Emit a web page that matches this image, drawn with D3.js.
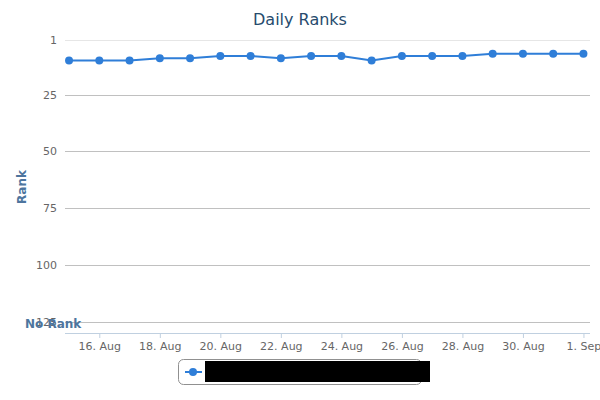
<!DOCTYPE html>
<html><head><meta charset="utf-8">
<script src="https://cdn.jsdelivr.net/npm/d3@7"></script>
<style>body{margin:0;background:#fff}svg{display:block;font-family:"DejaVu Sans",sans-serif}</style>
</head><body><svg id="c" width="600" height="400"></svg>
<script>
const dates = ["2013-08-15","2013-08-16","2013-08-17","2013-08-18","2013-08-19","2013-08-20","2013-08-21","2013-08-22","2013-08-23","2013-08-24","2013-08-25","2013-08-26","2013-08-27","2013-08-28","2013-08-29","2013-08-30","2013-08-31","2013-09-01"];
const ranks = [10,10,10,9,9,8,8,9,8,8,10,8,8,8,7,7,7,7];
const yTicks = [1,25,50,75,100,125];
const xTickDates = ["2013-08-16","2013-08-18","2013-08-20","2013-08-22","2013-08-24","2013-08-26","2013-08-28","2013-08-30","2013-09-01"];
const seriesName = "Series";

const svg = d3.select("#c");
const parse = d3.utcParse("%Y-%m-%d");
const H = 3600*1000;
const x = d3.scaleUtc()
  .domain([new Date(parse(dates[0]).getTime()-3.2*H), new Date(parse(dates[dates.length-1]).getTime()+5.2*H)])
  .range([65,590]);
const y = d3.scaleLinear().domain([1,129.8]).range([40,333]);

// title
svg.append("text").attr("x",300).attr("y",25).attr("text-anchor","middle")
  .attr("fill","#274b6d").attr("font-size",16).text("Daily Ranks");

// grid
const g = svg.append("g");
yTicks.forEach(t=>{
  g.append("line").attr("x1",65).attr("x2",590).attr("y1",Math.round(y(t))+0.5).attr("y2",Math.round(y(t))+0.5)
   .attr("stroke", t===1?"#e6e6e6":"#c0c0c0").attr("stroke-width",1);
  svg.append("text").attr("x",57).attr("y",y(t)+4).attr("text-anchor","end")
   .attr("fill","#666").attr("font-size",11).text(t);
});

// x axis
const xa = svg.append("g").attr("transform","translate(0,333)")
  .call(d3.axisBottom(x).tickValues(xTickDates.map(parse)).tickSize(5).tickPadding(4)
    .tickFormat(d=>d3.utcFormat("%-d. %b")(d)));
xa.select(".domain").attr("stroke","#c0d0e0").attr("d","M65,0.5H590");
xa.selectAll(".tick line").attr("stroke","#c0d0e0");
xa.selectAll(".tick text").attr("fill","#666").attr("font-size",11).attr("font-family","DejaVu Sans");

// axis title
svg.append("text").attr("transform","translate(26,187) rotate(-90)").attr("text-anchor","middle")
  .attr("fill","#4d759e").attr("font-weight","bold").attr("font-size",12).text("Rank");
svg.append("text").attr("x",25).attr("y",328).attr("fill","#4d759e")
  .attr("font-weight","bold").attr("font-size",12).text("No Rank");

// line
const pts = dates.map((d,i)=>({x:x(parse(d)), y:y(ranks[i])}));
svg.append("path").datum(pts).attr("fill","none").attr("stroke","#2f7ed8").attr("stroke-width",2)
  .attr("d", d3.line().x(d=>d.x).y(d=>d.y));
svg.selectAll("circle.m").data(pts).enter().append("circle").attr("class","m")
  .attr("cx",d=>d.x).attr("cy",d=>d.y).attr("r",4).attr("fill","#2f7ed8");

// legend
svg.append("rect").attr("x",178.5).attr("y",359.5).attr("width",243).attr("height",25).attr("rx",5)
  .attr("fill","#fff").attr("stroke","#909090");
svg.append("line").attr("x1",185).attr("x2",202).attr("y1",372).attr("y2",372).attr("stroke","#2f7ed8").attr("stroke-width",2);
svg.append("circle").attr("cx",193).attr("cy",372).attr("r",4).attr("fill","#2f7ed8");
svg.append("rect").attr("x",205).attr("y",361).attr("width",225).attr("height",21).attr("fill","#000");
svg.append("text").attr("x",208).attr("y",376).attr("fill","#000").attr("font-size",12).text(seriesName);
</script></body></html>
